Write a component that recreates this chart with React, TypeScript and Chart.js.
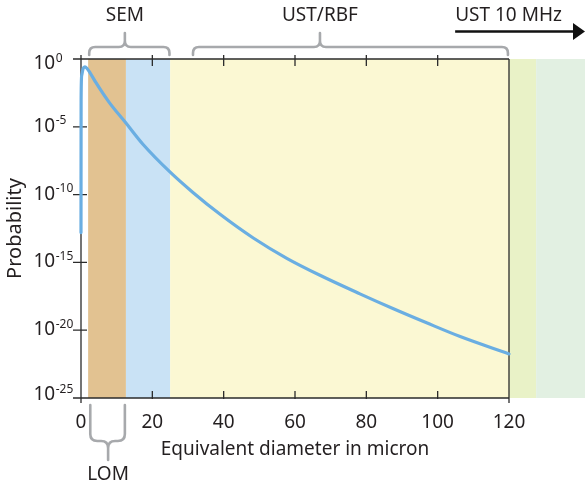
import React, { useEffect, useRef } from 'react';
import { Chart, registerables } from 'chart.js';

Chart.register(...registerables);

// ---- data ----
const diameter = [0, 0.03, 0.2, 0.6, 1.1, 1.7, 2.5, 4.2, 7.9, 12.6, 17.3, 25, 31.3, 39, 48.3, 57.7, 67, 78.2, 87.6, 96.9, 106.3, 120];
const probability = [1.58e-13, 1e-3, 6.3e-2, 0.2, 0.263, 0.2, 0.1, 1.78e-2, 6.3e-4, 1.9e-5, 5.4e-7, 4.5e-9, 1.5e-10, 3.5e-12, 6.3e-14, 2.0e-15, 1.12e-16, 4.8e-18, 3.8e-19, 3.5e-20, 3.4e-21, 1.78e-22];

const xTickValues = [0, 20, 40, 60, 80, 100, 120];
const yTickExponents = [0, -5, -10, -15, -20, -25];

// method ranges (in micron) shown as coloured bands
const bandStart = [2, 12.6, 25, 120, 127.6];
const bandEnd = [12.6, 25, 120, 127.6, 142];
const bandColors = ['#e2c291', '#c9e2f5', '#fbf8d3', '#e9f2c7', '#e2f0e2'];

// braces above / below the axis
const braceLabels = ['SEM', 'UST/RBF', 'LOM'];
const braceStart = [2.3, 31.4, 2.6];
const braceEnd = [24.8, 119.7, 12.3];
const braceMid = [12.3, 67, 7.6];
const braceBelow = [false, false, true];

const arrowLabel = 'UST 10 MHz';
const arrowStart = 104.9;

const FONT = '"Noto Sans", "Open Sans", sans-serif';
const TEXT = '#231f20';
const AXIS = '#2b2b2b';
const BRACE = '#a7a9ac';

function drawBrace(ctx: CanvasRenderingContext2D, x0: number, x1: number, xc: number, yArm: number, yBar: number, yTip: number, r: number) {
  const dir = yArm > yBar ? 1 : -1; // arms go toward yArm
  ctx.beginPath();
  ctx.moveTo(x0, yArm);
  ctx.lineTo(x0, yBar + dir * r);
  ctx.quadraticCurveTo(x0, yBar, x0 + r, yBar);
  ctx.lineTo(xc - r, yBar);
  ctx.quadraticCurveTo(xc, yBar, xc, yBar - dir * r);
  ctx.lineTo(xc, yTip);
  ctx.moveTo(xc, yBar - dir * r);
  ctx.quadraticCurveTo(xc, yBar, xc + r, yBar);
  ctx.lineTo(x1 - r, yBar);
  ctx.quadraticCurveTo(x1, yBar, x1, yBar + dir * r);
  ctx.lineTo(x1, yArm);
  ctx.stroke();
}

const decorPlugin = {
  id: 'decor',
  beforeDraw(chart: any) {
    const { ctx, chartArea } = chart;
    const xs = chart.scales.x;
    ctx.save();
    for (let i = 0; i < bandStart.length; i++) {
      const a = xs.getPixelForValue(bandStart[i]);
      const b = xs.getPixelForValue(bandEnd[i]);
      ctx.fillStyle = bandColors[i];
      ctx.fillRect(a, chartArea.top, b - a, chartArea.bottom - chartArea.top);
    }
    ctx.restore();
  },
  beforeDatasetsDraw(chart: any) {
    const { ctx, chartArea } = chart;
    const xs = chart.scales.x;
    const ys = chart.scales.y;
    const { left, right, top, bottom } = chartArea;
    ctx.save();
    ctx.strokeStyle = AXIS;
    ctx.lineWidth = 1.3;
    ctx.beginPath();
    // frame
    ctx.moveTo(left, top - 4); ctx.lineTo(left, bottom + 5);
    ctx.moveTo(right, top); ctx.lineTo(right, bottom + 5);
    ctx.moveTo(left - 8, top); ctx.lineTo(right, top);
    ctx.moveTo(left - 8, bottom); ctx.lineTo(right, bottom);
    // x ticks
    xTickValues.forEach((v) => {
      if (v === xTickValues[0] || v === xTickValues[xTickValues.length - 1]) return;
      const px = xs.getPixelForValue(v);
      ctx.moveTo(px, top - 4); ctx.lineTo(px, top + 7);
      ctx.moveTo(px, bottom - 7); ctx.lineTo(px, bottom + 1);
    });
    // y ticks
    yTickExponents.forEach((e, i) => {
      if (i === 0 || i === yTickExponents.length - 1) return;
      const py = ys.getPixelForValue(Math.pow(10, e));
      ctx.moveTo(left - 8, py); ctx.lineTo(left + 6, py);
    });
    ctx.stroke();
    ctx.restore();
  },
  afterDraw(chart: any) {
    const { ctx, chartArea } = chart;
    const xs = chart.scales.x;
    const ys = chart.scales.y;
    const { top, bottom } = chartArea;
    ctx.save();
    ctx.fillStyle = TEXT;
    // y tick labels with superscripts
    yTickExponents.forEach((e) => {
      const py = ys.getPixelForValue(Math.pow(10, e));
      const base = Math.min(Math.max(py + 5, top + 10), bottom + 2);
      ctx.font = `19px ${FONT}`;
      ctx.textAlign = 'left';
      ctx.textBaseline = 'alphabetic';
      ctx.fillText('10', 33.5, base);
      const w = ctx.measureText('10').width;
      ctx.font = `12px ${FONT}`;
      ctx.fillText(String(e), 33.5 + w + 0.5, base - 7.5);
    });

    // braces and their labels
    ctx.strokeStyle = BRACE;
    ctx.lineWidth = 2.6;
    ctx.lineCap = 'round';
    ctx.lineJoin = 'round';
    ctx.font = `19px ${FONT}`;
    ctx.textAlign = 'center';
    ctx.textBaseline = 'alphabetic';
    for (let i = 0; i < braceLabels.length; i++) {
      const x0 = xs.getPixelForValue(braceStart[i]);
      const x1 = xs.getPixelForValue(braceEnd[i]);
      const xc = xs.getPixelForValue(braceMid[i]);
      if (braceBelow[i]) {
        drawBrace(ctx, x0, x1, xc, bottom + 7, bottom + 43, bottom + 62, 7);
        ctx.fillText(braceLabels[i], xc, bottom + 82);
      } else {
        drawBrace(ctx, x0, x1, xc, top - 4, top - 12, top - 26, 6);
        ctx.fillText(braceLabels[i], xc, top - 38);
      }
    }

    // arrow
    const ax = xs.getPixelForValue(arrowStart);
    const ay = top - 27.5;
    const tipX = chart.width;
    ctx.fillStyle = '#111';
    ctx.strokeStyle = '#111';
    ctx.lineWidth = 2.4;
    ctx.lineCap = 'butt';
    ctx.beginPath();
    ctx.moveTo(ax, ay);
    ctx.lineTo(tipX - 10, ay);
    ctx.stroke();
    ctx.beginPath();
    ctx.moveTo(tipX - 12, ay - 8.5);
    ctx.lineTo(tipX, ay);
    ctx.lineTo(tipX - 12, ay + 8.5);
    ctx.closePath();
    ctx.fill();
    ctx.fillStyle = TEXT;
    ctx.textAlign = 'left';
    ctx.fillText(arrowLabel, ax, top - 38);
    ctx.restore();
  },
};

export default function App() {
  const ref = useRef<HTMLCanvasElement | null>(null);
  useEffect(() => {
    document.body.style.margin = '0';
    const canvas = ref.current;
    if (!canvas) return;
    const chart = new Chart(canvas, {
      type: 'line',
      data: {
        datasets: [
          {
            data: diameter.map((x, i) => ({ x, y: probability[i] })),
            borderColor: '#6aaee2',
            borderWidth: 3.2,
            borderCapStyle: 'round',
            borderJoinStyle: 'round',
            pointRadius: 0,
            cubicInterpolationMode: 'monotone',
            fill: false,
            clip: 6,
          },
        ],
      },
      options: {
        animation: false,
        responsive: false,
        devicePixelRatio: 1,
        events: [],
        layout: { padding: { left: 0, top: 59, right: 76, bottom: 0 } },
        plugins: { legend: { display: false }, tooltip: { enabled: false } },
        scales: {
          x: {
            type: 'linear',
            min: 0,
            max: 120,
            grid: { display: false, drawTicks: false },
            border: { display: false },
            afterBuildTicks: (s: any) => {
              s.ticks = xTickValues.map((v) => ({ value: v }));
            },
            ticks: {
              autoSkip: false,
              maxRotation: 0,
              padding: 13,
              color: TEXT,
              font: { family: FONT, size: 19 },
            },
            title: {
              display: true,
              text: 'Equivalent diameter in micron',
              color: TEXT,
              font: { family: FONT, size: 19 },
              padding: { top: 0, bottom: 24 },
            },
            afterFit: (s: any) => {
              s.height = 87;
            },
          },
          y: {
            type: 'logarithmic',
            min: 1e-25,
            max: 1,
            grid: { display: false, drawTicks: false },
            border: { display: false },
            ticks: { display: false },
            title: {
              display: true,
              text: 'Probability',
              color: TEXT,
              font: { family: FONT, size: 20 },
              padding: { top: 3, bottom: 0 },
            },
            afterFit: (s: any) => {
              s.width = 81;
            },
          },
        },
      } as any,
      plugins: [decorPlugin],
    });
    return () => chart.destroy();
  }, []);
  return (
    <div style={{ width: 585, height: 485 }}>
      <canvas ref={ref} width={585} height={485} style={{ display: 'block' }} />
    </div>
  );
}
